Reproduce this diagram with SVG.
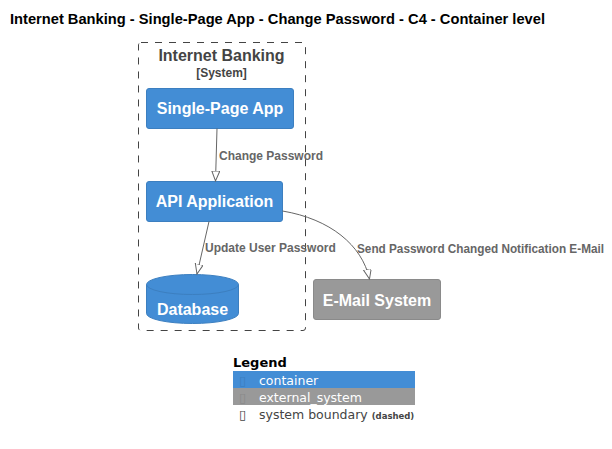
<svg xmlns="http://www.w3.org/2000/svg" width="612" height="449" viewBox="0 0 612 449">
<defs>
<style>
.title{font-family:"Liberation Sans",Arial,sans-serif;font-size:14px;font-weight:bold;fill:#000}
.node{fill:#438DD5;stroke:#3C7FC0;stroke-width:1}
.ext{fill:#999999;stroke:#8A8A8A;stroke-width:1}
.ntext{font-family:"Liberation Sans",Arial,sans-serif;font-size:16px;font-weight:bold;fill:#FFFFFF;text-anchor:middle}
.btitle{font-family:"Liberation Sans",Arial,sans-serif;font-size:16px;font-weight:bold;fill:#444444;text-anchor:middle}
.bsub{font-family:"Liberation Sans",Arial,sans-serif;font-size:12px;font-weight:bold;fill:#444444;text-anchor:middle}
.lbl{font-family:"Liberation Sans",Arial,sans-serif;font-size:12px;font-weight:bold;fill:#666666}
.conn{fill:none;stroke:#666666;stroke-width:1}
.leg{font-family:"DejaVu Sans",sans-serif;font-size:12.5px}
.glyph{font-family:"DejaVu Sans",sans-serif;font-size:13px}
</style>
<marker id="arr" markerWidth="12" markerHeight="10" refX="10" refY="4" orient="auto" markerUnits="userSpaceOnUse">
<path d="M0,0 L10,4 L0,8 Z" fill="#FFFFFF" stroke="#666666" stroke-width="1"/>
</marker>
</defs>
<rect width="612" height="449" fill="#FFFFFF"/>
<text class="title" x="10" y="24" textLength="535" lengthAdjust="spacingAndGlyphs">Internet Banking - Single-Page App - Change Password - C4 - Container level</text>

<g id="boundary">
<rect x="138.5" y="42.5" width="167" height="288" rx="2.5" fill="none" stroke="#444444" stroke-width="1" stroke-dasharray="7,7"/>
<text class="btitle" x="221.5" y="61">Internet Banking</text>
<text class="bsub" x="221.5" y="77">[System]</text>
</g>

<g id="spa">
<rect class="node" x="146.5" y="88.5" width="147" height="40" rx="2.5"/>
<text class="ntext" x="220" y="114">Single-Page App</text>
</g>

<g id="api">
<rect class="node" x="146.5" y="181.5" width="136" height="40" rx="2.5"/>
<text class="ntext" x="214.5" y="207">API Application</text>
</g>

<g id="database">
<path class="node" d="M146.5,284.5 A46,10 0 0 1 238.5,284.5 L238.5,313.5 A46,10 0 0 1 146.5,313.5 Z"/>
<path d="M146.5,284.5 A46,10 0 0 0 238.5,284.5" fill="none" stroke="#3C7FC0" stroke-width="1"/>
<text class="ntext" x="192.5" y="315">Database</text>
</g>

<g id="email">
<rect class="ext" x="313.5" y="279.5" width="127" height="40" rx="2.5"/>
<text class="ntext" x="377" y="306">E-Mail System</text>
</g>

<g id="connectors">
<path class="conn" d="M217,128.5 L215.5,181" marker-end="url(#arr)"/>
<text class="lbl" x="219" y="160">Change Password</text>
<path class="conn" d="M209,221.5 L197,274" marker-end="url(#arr)"/>
<text class="lbl" x="205" y="252">Update User Password</text>
<path class="conn" d="M282.5,211 C330,219 362,245 369.5,279" marker-end="url(#arr)"/>
<text class="lbl" x="357" y="253" textLength="247" lengthAdjust="spacingAndGlyphs">Send Password Changed Notification E-Mail</text>
</g>

<g id="legend">
<text x="233" y="367" font-family="'DejaVu Sans',sans-serif" font-size="13" font-weight="bold" fill="#000">Legend</text>
<rect x="233" y="371" width="182" height="17" fill="#438DD5"/>
<text class="glyph" x="239" y="385" fill="#3C7FC0">▯</text>
<text class="leg" x="259" y="385" fill="#FFFFFF">container</text>
<rect x="233" y="388" width="182" height="17" fill="#999999"/>
<text class="glyph" x="239" y="402" fill="#8A8A8A">▯</text>
<text class="leg" x="259" y="402" fill="#FFFFFF">external_system</text>
<text class="glyph" x="239" y="419" fill="#444444">▯</text>
<text class="leg" x="259" y="419" fill="#444444">system boundary <tspan font-size="8.5" font-weight="bold">(dashed)</tspan></text>
</g>
</svg>
